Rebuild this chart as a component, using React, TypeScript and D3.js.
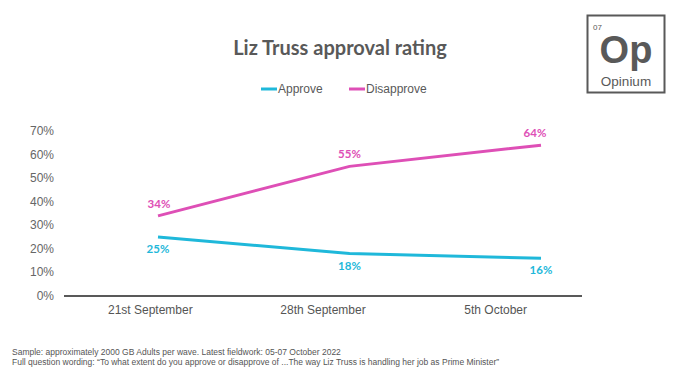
import React from "react";
import * as d3 from "d3";

const categories = ["21st September", "28th September", "5th October"];
const approve = [25, 18, 16];
const disapprove = [34, 55, 64];
const yTicks = [0, 10, 20, 30, 40, 50, 60, 70];
const seriesNames = ["Approve", "Disapprove"];
const footnotes = [
  "Sample: approximately 2000 GB Adults per wave. Latest fieldwork: 05-07 October 2022",
  "Full question wording: \u201cTo what extent do you approve or disapprove of ...The way Liz Truss is handling her job as Prime Minister\u201d",
];

const W = 680;
const H = 382;
const CYAN = "#1FB8DA";
const PINK = "#DE4FB6";
const GRAY = "#595959";

export default function App() {
  const y = d3.scaleLinear().domain([0, 70]).range([296, 131]);
  const xBand = d3.scaleBand<string>().domain(categories).range([64, 582]);
  const xPt = d3.scalePoint<string>().domain(categories).range([158, 541]);
  const line = d3
    .line<number>()
    .x((_, i) => xPt(categories[i]) as number)
    .y((d) => y(d));

  const labelFont = "Lato, 'Noto Sans', sans-serif";
  const arial = "'Liberation Sans', Arial, sans-serif";

  const approveLabelDy = [16, 16, 16];
  const disapproveLabelDy = [-8, -8, -8];
  const approveLabelDx = [0, 0, 0];
  const disapproveLabelDx = [1, 0, -6];

  return (
    <svg
      width={W}
      height={H}
      style={{ position: "absolute", left: 0, top: 0, background: "#fff" }}
    >
      <rect width={W} height={H} fill="#fff" />
      <text
        x={340}
        y={55}
        textAnchor="middle"
        fontFamily="Lato, sans-serif"
        fontWeight="bold"
        fontSize={20}
        fill={GRAY}
      >
        Liz Truss approval rating
      </text>

      {/* legend */}
      {seriesNames.map((name, i) => {
        const lx = i === 0 ? 261 : 349;
        const col = i === 0 ? CYAN : PINK;
        return (
          <g key={name}>
            <line x1={lx} x2={lx + 16} y1={89} y2={89} stroke={col} strokeWidth={3} />
            <text x={lx + 17} y={93} fontFamily={arial} fontSize={12} fill={GRAY}>
              {name}
            </text>
          </g>
        );
      })}

      {/* y tick labels */}
      {yTicks.map((t) => (
        <text
          key={t}
          x={54}
          y={y(t) + 4}
          textAnchor="end"
          fontFamily={arial}
          fontSize={12}
          fill="#666"
        >
          {t + "%"}
        </text>
      ))}

      {/* x axis */}
      <line x1={64} x2={582} y1={y(0)} y2={y(0)} stroke={GRAY} strokeWidth={2} />
      {categories.map((c) => (
        <text
          key={c}
          x={(xBand(c) as number) + xBand.bandwidth() / 2}
          y={314}
          textAnchor="middle"
          fontFamily={arial}
          fontSize={12}
          fill="#555"
        >
          {c}
        </text>
      ))}

      {/* lines */}
      <path d={line(approve) || ""} fill="none" stroke={CYAN} strokeWidth={3} />
      <path d={line(disapprove) || ""} fill="none" stroke={PINK} strokeWidth={3} />

      {approve.map((v, i) => (
        <text
          key={"a" + i}
          x={(xPt(categories[i]) as number) + approveLabelDx[i]}
          y={y(v) + approveLabelDy[i]}
          textAnchor="middle"
          fontFamily={labelFont}
          fontWeight="bold"
          fontSize={11.5}
          fill={CYAN}
        >
          {v + "%"}
        </text>
      ))}
      {disapprove.map((v, i) => (
        <text
          key={"d" + i}
          x={(xPt(categories[i]) as number) + disapproveLabelDx[i]}
          y={y(v) + disapproveLabelDy[i]}
          textAnchor="middle"
          fontFamily={labelFont}
          fontWeight="bold"
          fontSize={11.5}
          fill={PINK}
        >
          {v + "%"}
        </text>
      ))}

      {/* logo */}
      <rect x={587.5} y={15.5} width={77} height={77} fill="none" stroke={GRAY} strokeWidth={2} />
      <text x={593} y={30} fontFamily={arial} fontSize={8} fill={GRAY}>
        07
      </text>
      <text
        x={626}
        y={63}
        textAnchor="middle"
        fontFamily="'Liberation Sans', Arial, sans-serif"
        fontWeight="bold"
        fontSize={38}
        fill={GRAY}
      >
        Op
      </text>
      <text x={626} y={86} textAnchor="middle" fontFamily={arial} fontSize={13.5} fill={GRAY}>
        Opinium
      </text>

      {/* footnotes */}
      {footnotes.map((f, i) => (
        <text key={i} x={12} y={355 + i * 10} fontFamily={arial} fontSize={8.5} fill="#555">
          {f}
        </text>
      ))}
    </svg>
  );
}
